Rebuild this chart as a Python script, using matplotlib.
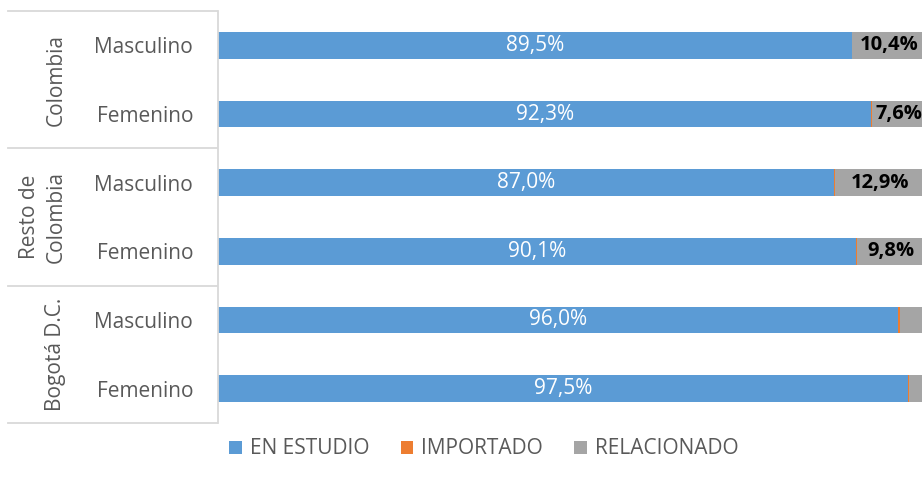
import matplotlib
matplotlib.use("Agg")
import matplotlib.pyplot as plt
import matplotlib.transforms as mtransforms
from matplotlib.lines import Line2D
from matplotlib.patches import Patch

plt.rcParams["font.family"] = ["Open Sans", "DejaVu Sans"]

# data, top to bottom
groups = ["Colombia", "Resto de\nColombia", "Bogotá D.C."]
sexes = ["Masculino", "Femenino", "Masculino", "Femenino", "Masculino", "Femenino"]
en_estudio = [89.5, 92.3, 87.0, 90.1, 96.0, 97.5]
importado = [0.1, 0.1, 0.1, 0.1, 0.3, 0.1]
relacionado = [10.4, 7.6, 12.9, 9.8, 3.7, 2.4]
series_names = ["EN ESTUDIO", "IMPORTADO", "RELACIONADO"]

BLUE, ORANGE, GRAY = "#5B9BD5", "#ED7D31", "#A5A5A5"
TXT = "#595959"
LINE = "#D9D9D9"
FS = 15

W, H = 922, 484
fig = plt.figure(figsize=(W / 100, H / 100), dpi=100)
ax = fig.add_axes([218 / W, 1 - 423 / H, 708 / W, 412 / H])

n = len(sexes)
ys = list(range(n - 1, -1, -1))
bh = 0.39
left2 = [a + b for a, b in zip(en_estudio, importado)]
ax.barh(ys, en_estudio, height=bh, color=BLUE, edgecolor="none")
ax.barh(ys, importado, left=en_estudio, height=bh, color=ORANGE, edgecolor="none")
ax.barh(ys, relacionado, left=left2, height=bh, color=GRAY, edgecolor="none")

for y, a, l2, r in zip(ys, en_estudio, left2, relacionado):
    ax.text(a / 2, y, f"{a:.1f}%".replace(".", ","), ha="center", va="center",
            color="white", fontsize=FS)
    if r >= 5:
        ax.text(l2 + r / 2, y, f"{r:.1f}%".replace(".", ","), ha="center",
                va="center", color="black", fontsize=FS - 0.5, fontweight="bold")

ax.set_xlim(0, 100)
ax.set_ylim(-0.5, n - 0.5)
ax.set_xticks([])
ax.set_yticks(ys)
ax.set_yticklabels(sexes, fontsize=FS, color=TXT)
ax.tick_params(axis="y", length=0, pad=18)
for s in ["top", "right", "bottom"]:
    ax.spines[s].set_visible(False)
ax.spines["left"].set_color(LINE)
ax.spines["left"].set_linewidth(1.3)

# group separators and labels on the left
tr = mtransforms.blended_transform_factory(fig.transFigure, ax.transData)
for yl in [n - 0.5, n - 2.5, n - 4.5, -0.5]:
    fig.add_artist(Line2D([8 / W, 217 / W], [yl, yl], transform=tr,
                          color=LINE, linewidth=1.3))
for i, g in enumerate(groups):
    yc = n - 1.5 - 2 * i
    xc = 43 / W if "\n" in g else 56 / W
    fig.text(xc, yc, g, transform=tr, rotation=90, ha="center", va="center",
             multialignment="center", fontsize=FS, color=TXT, linespacing=1.4)

handles = [Patch(facecolor=c, edgecolor="none") for c in (BLUE, ORANGE, GRAY)]
fig.legend(handles, series_names, loc="center", bbox_to_anchor=(484 / W, 1 - 449 / H),
           ncol=3, frameon=False, fontsize=FS, labelcolor=TXT,
           handlelength=0.6, handleheight=0.6, handletextpad=0.4, columnspacing=1.5)

fig.savefig("out.png", dpi=100)
